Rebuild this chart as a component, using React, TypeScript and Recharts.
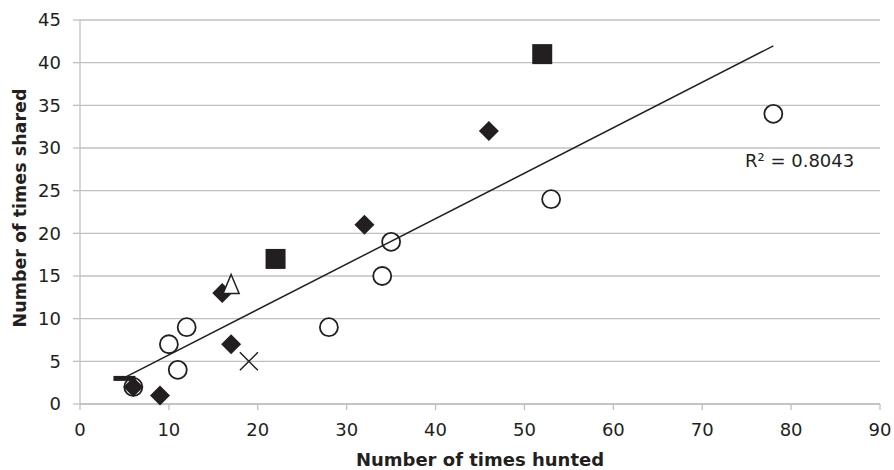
import { CartesianGrid, Scatter, ScatterChart, XAxis, YAxis } from "recharts";

const xTicks = [0, 10, 20, 30, 40, 50, 60, 70, 80, 90];
const yTicks = [0, 5, 10, 15, 20, 25, 30, 35, 40, 45];

const circleX = [6, 10, 11, 12, 28, 34, 35, 53, 78];
const circleY = [2, 7, 4, 9, 9, 15, 19, 24, 34];
const diamondX = [6, 9, 16, 17, 32, 46];
const diamondY = [2, 1, 13, 7, 21, 32];
const squareX = [22, 52];
const squareY = [17, 41];
const triangleX = [17];
const triangleY = [14];
const crossX = [19];
const crossY = [5];
const dashX = [5];
const dashY = [3];
// linear trendline end points (as drawn)
const trendX = [5, 78];
const trendY = [3.09, 41.96];

const toPoints = (xs: number[], ys: number[]) =>
  xs.map((x, i) => ({ x, y: ys[i] }));

const INK = "#231f20";
const GRID = "#c0c0c0";
const FONT = "'DejaVu Sans', sans-serif";

const Circle = ({ cx, cy }: any) => (
  <circle cx={cx} cy={cy} r={9} fill="#fff" stroke={INK} strokeWidth={1.8} />
);

const Diamond = ({ cx, cy }: any) => (
  <path
    d={`M${cx},${cy - 10}L${cx + 10},${cy}L${cx},${cy + 10}L${cx - 10},${cy}Z`}
    fill={INK}
  />
);

const Square = ({ cx, cy }: any) => (
  <rect x={cx - 10} y={cy - 10} width={20} height={20} fill={INK} />
);

const Triangle = ({ cx, cy }: any) => (
  <path
    d={`M${cx},${cy - 10}L${cx + 8},${cy + 9}L${cx - 8},${cy + 9}Z`}
    fill="#fff"
    stroke={INK}
    strokeWidth={1.5}
  />
);

const Cross = ({ cx, cy }: any) => (
  <path
    d={`M${cx - 9},${cy - 9}L${cx + 9},${cy + 9}M${cx + 9},${cy - 9}L${cx - 9},${cy + 9}`}
    stroke={INK}
    strokeWidth={1.5}
  />
);

const Dash = ({ cx, cy }: any) => (
  <rect x={cx - 11} y={cy - 2.5} width={22} height={5} fill={INK} />
);

const NoDot = () => <g />;

const tickStyle = { fontSize: 18, fill: INK, fontFamily: FONT };

export default function App() {
  return (
    <div>
      <style>{`body{margin:0}`}</style>
      <ScatterChart
        width={894}
        height={470}
        margin={{ top: 20, right: 14, left: 0, bottom: 0 }}
      >
        <CartesianGrid vertical={false} stroke={GRID} strokeWidth={1.3} />
        <XAxis
          type="number"
          dataKey="x"
          domain={[0, 90]}
          ticks={xTicks}
          interval={0}
          height={66}
          tick={tickStyle}
          tickSize={6}
          tickMargin={13}
          axisLine={{ stroke: GRID, strokeWidth: 1.3 }}
          tickLine={{ stroke: GRID, strokeWidth: 1.3 }}
        />
        <YAxis
          type="number"
          dataKey="y"
          domain={[0, 45]}
          ticks={yTicks}
          interval={0}
          width={80}
          tick={tickStyle}
          tickSize={7}
          tickMargin={12}
          axisLine={{ stroke: GRID, strokeWidth: 1.3 }}
          tickLine={{ stroke: GRID, strokeWidth: 1.3 }}
        />
        <Scatter data={toPoints(circleX, circleY)} shape={Circle} isAnimationActive={false} />
        <Scatter data={toPoints(diamondX, diamondY)} shape={Diamond} isAnimationActive={false} />
        <Scatter data={toPoints(squareX, squareY)} shape={Square} isAnimationActive={false} />
        <Scatter data={toPoints(triangleX, triangleY)} shape={Triangle} isAnimationActive={false} />
        <Scatter data={toPoints(crossX, crossY)} shape={Cross} isAnimationActive={false} />
        <Scatter data={toPoints(dashX, dashY)} shape={Dash} isAnimationActive={false} />
        <Scatter
          data={toPoints(trendX, trendY)}
          shape={NoDot}
          line={{ stroke: INK, strokeWidth: 1.5 }}
          isAnimationActive={false}
        />
        <text
          x={480}
          y={466}
          textAnchor="middle"
          fontFamily={FONT}
          fontWeight="bold"
          fontSize={18}
          fill={INK}
        >
          Number of times hunted
        </text>
        <text
          transform="translate(26,208) rotate(-90)"
          textAnchor="middle"
          fontFamily={FONT}
          fontWeight="bold"
          fontSize={17.5}
          fill={INK}
        >
          Number of times shared
        </text>
        <text x={745} y={167} fontFamily={FONT} fontSize={18} fill={INK}>
          R² = 0.8043
        </text>
      </ScatterChart>
    </div>
  );
}
